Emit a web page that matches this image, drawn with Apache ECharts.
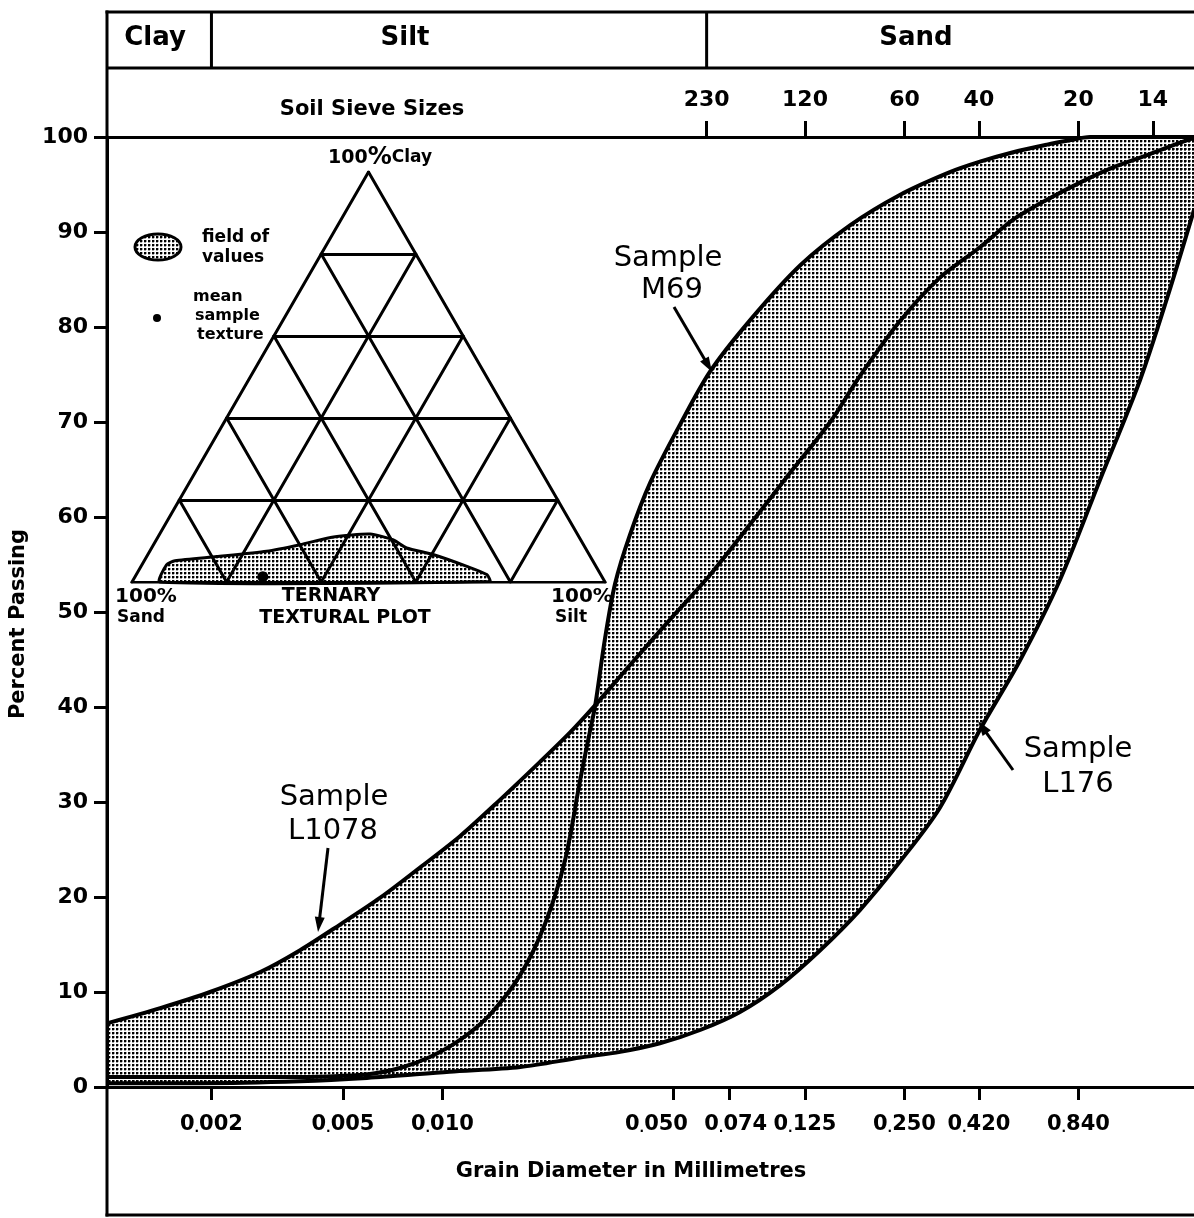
<!DOCTYPE html>
<html><head><meta charset="utf-8">
<script src="https://cdn.jsdelivr.net/npm/echarts@6/dist/echarts.min.js"></script>
<style>html,body{margin:0;padding:0;background:#fff}#c{width:1194px;height:1218px}</style>
</head><body><div id="c"></div>
<script>
// ---------------- data ----------------
const xTickValues = [0.002, 0.005, 0.010, 0.050, 0.074, 0.125, 0.250, 0.420, 0.840];
const xTickLabels = ['0.002', '0.005', '0.010', '0.050', '0.074', '0.125', '0.250', '0.420', '0.840'];
const sieveOpenings = [0.063, 0.125, 0.250, 0.420, 0.840, 1.41];
const sieveLabels = ['230', '120', '60', '40', '20', '14'];
const classBounds = [0.002, 0.063];
const classNames = ['Clay', 'Silt', 'Sand'];

// Sample L1078 (grain diameter mm, percent passing)
const l1078Diam = [0.000966, 0.0014, 0.00198, 0.00281, 0.00371, 0.0049, 0.00647, 0.00855, 0.0113, 0.0149, 0.0197, 0.0243, 0.029, 0.0369, 0.0488, 0.0645, 0.0852, 0.113, 0.149, 0.183, 0.242, 0.320, 0.423, 0.533, 0.675, 0.849, 1.07, 1.355, 1.705, 1.879];
const l1078Pct  = [6.7, 8.3, 10.0, 12.1, 14.4, 17.1, 19.9, 23.1, 26.4, 30.2, 34.2, 37.3, 40.2, 44.4, 49.2, 53.9, 59.2, 64.7, 70.0, 74.8, 80.6, 85.2, 88.4, 91.3, 93.4, 95.2, 96.8, 98.1, 99.4, 99.9];
// Sample M69
const m69Diam = [0.000966, 0.00185, 0.00371, 0.0049, 0.00604, 0.00744, 0.00917, 0.0113, 0.0139, 0.0172, 0.0204, 0.0235, 0.0261, 0.028, 0.029, 0.031, 0.0333, 0.0369, 0.0425, 0.0523, 0.0645, 0.0852, 0.121, 0.171, 0.242, 0.343, 0.423, 0.533, 0.675, 0.776, 0.911, 1.879];
const m69Pct  = [1.05, 1.05, 1.05, 1.16, 1.37, 2.0, 3.16, 4.95, 7.6, 11.8, 17.1, 23.9, 32.3, 37.6, 40.2, 47.1, 53.0, 58.1, 63.6, 69.7, 75.3, 80.7, 86.5, 90.7, 93.9, 96.3, 97.4, 98.4, 99.2, 99.6, 100, 100];
// Sample L176
const l176Diam = [0.000966, 0.00185, 0.00371, 0.00591, 0.0105, 0.0172, 0.0261, 0.0345, 0.0455, 0.0602, 0.0795, 0.105, 0.139, 0.183, 0.242, 0.320, 0.423, 0.559, 0.739, 0.976, 1.29, 1.557, 1.879];
const l176Pct  = [0.4, 0.4, 0.6, 0.95, 1.6, 2.1, 3.1, 3.7, 4.6, 6.0, 7.9, 10.7, 14.4, 18.6, 23.7, 29.4, 37.6, 44.9, 53.4, 63.9, 74.4, 83.0, 92.3];

// Ternary inset: field of values (percent silt / clay), mean sample texture, grid steps
const fieldSilt = [5.9, 5.2, 6.5, 14.8, 24.7, 31.0, 37.1, 44.5, 50.0, 53.9, 60.3, 68.9, 74.1, 75.6];
const fieldClay = [0.0, 4.2, 5.2, 6.2, 7.5, 9.1, 11.0, 11.7, 10.3, 8.3, 6.7, 3.8, 1.8, 0.1];
const meanSilt = [27.0];
const meanClay = [1.3];
const ternaryGrid = [20, 40, 60, 80];

// ---------------- helpers ----------------
const X_MIN = -3.015, X_MAX = 0.274;
const lg = v => Math.log10(v);
const pts = (d, p) => d.map((v, i) => [lg(v), p[i]]);
const tern = (sand, silt, clay) => [silt + clay / 2, clay * Math.sqrt(3) / 2];
const FONT = '"DejaVu Sans", sans-serif';

function makeDots() {
  const c = document.createElement('canvas');
  c.width = 4; c.height = 4;
  const g = c.getContext('2d');
  g.fillStyle = '#000';
  g.fillRect(0, 0, 2, 2);
  g.fillStyle = 'rgba(0,0,0,0.35)';
  g.fillRect(2, 0, 1, 2);
  g.fillRect(0, 2, 2, 1);
  return c;
}
const dots = { image: makeDots(), repeat: 'repeat' };

// hand-lettered label nudges (style only)
const labelNudge = { '0.050': 'nl', '0.074': 'nr' };

function labelFor(values, labels, rich) {
  return v => {
    const i = values.findIndex(t => Math.abs(lg(t) - v) < 1e-6);
    if (i < 0) return '';
    if (!rich) return labels[i];
    const parts = labels[i].split('.');
    const nudge = labelNudge[labels[i]];
    const a = nudge === 'nr' ? 'nr' : 'n';
    const b = nudge === 'nl' ? 'nl' : 'n';
    return '{' + a + '|' + parts[0] + '}{p|.}{' + b + '|' + parts[1] + '}';
  };
}

// ternary grid lines
const ternLines = [];
ternaryGrid.forEach(k => {
  ternLines.push([tern(100 - k, 0, k), tern(0, 100 - k, k)]);
  ternLines.push([tern(k, 100 - k, 0), tern(k, 0, 100 - k)]);
  ternLines.push([tern(100 - k, k, 0), tern(0, k, 100 - k)]);
});
ternLines.push([tern(100, 0, 0), tern(0, 100, 0)]);
ternLines.push([tern(0, 100, 0), tern(0, 0, 100)]);
ternLines.push([tern(0, 0, 100), tern(100, 0, 0)]);

const chart = echarts.init(document.getElementById('c'), null, { renderer: 'canvas' });

const blackLine = { color: '#000', width: 3 };
const numStyle = { fontFamily: FONT, fontWeight: 'bold', fontSize: 21, color: '#000' };

const option = {
  animation: false,
  backgroundColor: '#fff',
  grid: [
    { left: 107, top: 137, right: 0, bottom: 131 },
    { left: 132, top: 172, width: 473, height: 410 }
  ],
  xAxis: [
    {
      type: 'value', gridIndex: 0, position: 'bottom', min: X_MIN, max: X_MAX,
      axisLine: { show: true, onZero: false, lineStyle: blackLine },
      axisTick: { show: true, customValues: xTickValues.map(lg), length: 13, lineStyle: blackLine },
      axisLabel: { customValues: xTickValues.map(lg), formatter: labelFor(xTickValues, xTickLabels, true),
        margin: 27, color: '#000',
        rich: { n: numStyle,
                nl: Object.assign({}, numStyle, { padding: [0, 34, 0, 0] }),
                nr: Object.assign({}, numStyle, { padding: [0, 0, 0, 12] }),
                p: { fontFamily: FONT, fontWeight: 'bold', fontSize: 12, color: '#000', verticalAlign: 'bottom', padding: [9, 0, 0, 0] } } },
      splitLine: { show: false },
      name: 'Grain Diameter in Millimetres', nameLocation: 'middle', nameGap: 74,
      nameTextStyle: { color: '#000', fontFamily: FONT, fontWeight: 'bold', fontSize: 21, padding: [0, 39, 0, 0] }
    },
    {
      type: 'value', gridIndex: 0, position: 'top', min: X_MIN, max: X_MAX,
      axisLine: { show: true, onZero: false, lineStyle: blackLine },
      axisTick: { show: true, customValues: sieveOpenings.map(lg), length: 16, lineStyle: blackLine },
      axisLabel: { customValues: sieveOpenings.map(lg), formatter: labelFor(sieveOpenings, sieveLabels, false),
        margin: 26, color: '#000', fontFamily: FONT, fontWeight: 'bold', fontSize: 22 },
      splitLine: { show: false }
    },
    { type: 'value', gridIndex: 1, min: 0, max: 100, show: false }
  ],
  yAxis: [
    {
      type: 'value', gridIndex: 0, min: 0, max: 100, interval: 10,
      axisLine: { show: true, onZero: false, lineStyle: blackLine },
      axisTick: { show: true, length: 13, lineStyle: blackLine },
      axisLabel: { margin: 19, color: '#000', fontFamily: FONT, fontWeight: 'bold', fontSize: 22 },
      splitLine: { show: false },
      name: 'Percent Passing', nameLocation: 'middle', nameGap: 78, nameRotate: 90,
      nameTextStyle: { color: '#000', fontFamily: FONT, fontWeight: 'bold', fontSize: 21, padding: [0, 24, 0, 0] }
    },
    { type: 'value', gridIndex: 1, min: 0, max: 100 * Math.sqrt(3) / 2, show: false }
  ],
  series: [
    {
      type: 'custom', xAxisIndex: 0, yAxisIndex: 0, z: 1, silent: true,
      data: [[X_MIN, 0], [X_MIN, 0]],
      renderItem(params, api) {
        const top = params.dataIndex === 0 ? pts(l1078Diam, l1078Pct) : pts(m69Diam, m69Pct);
        const bot = pts(l176Diam, l176Pct).slice().reverse();
        const points = top.concat(bot).map(p => api.coord(p));
        return { type: 'polygon', shape: { points, smooth: 0 }, style: { fill: dots, stroke: null } };
      }
    },
    { name: 'Sample L1078', type: 'line', xAxisIndex: 0, yAxisIndex: 0, data: pts(l1078Diam, l1078Pct),
      symbol: 'none', smooth: 0.3, lineStyle: { color: '#000', width: 4 }, z: 3 },
    { name: 'Sample M69', type: 'line', xAxisIndex: 0, yAxisIndex: 0, data: pts(m69Diam, m69Pct),
      symbol: 'none', smooth: 0.3, lineStyle: { color: '#000', width: 4 }, z: 3 },
    { name: 'Sample L176', type: 'line', xAxisIndex: 0, yAxisIndex: 0, data: pts(l176Diam, l176Pct),
      symbol: 'none', smooth: 0.3, lineStyle: { color: '#000', width: 4 }, z: 3 },
    {
      type: 'custom', xAxisIndex: 2, yAxisIndex: 1, z: 4, silent: true,
      data: [[0, 0]],
      renderItem(params, api) {
        const points = fieldSilt.map((s, i) => api.coord(tern(100 - s - fieldClay[i], s, fieldClay[i])));
        return { type: 'polygon', shape: { points, smooth: 0.2 }, style: { fill: dots, stroke: '#000', lineWidth: 3 } };
      }
    },
    { type: 'lines', coordinateSystem: 'cartesian2d', xAxisIndex: 2, yAxisIndex: 1, z: 5, silent: true,
      data: ternLines.map(c => ({ coords: c })),
      lineStyle: { color: '#000', width: 3, opacity: 1, curveness: 0, cap: 'round' } },
    { type: 'scatter', xAxisIndex: 2, yAxisIndex: 1, z: 6, silent: true,
      data: meanSilt.map((s, i) => tern(100 - s - meanClay[i], s, meanClay[i])),
      symbol: 'circle', symbolSize: 11, itemStyle: { color: '#000', opacity: 1 } }
  ]
};
chart.setOption(option);

// ---------------- graphic (frame, header, inset texts, annotations) ----------------
function txt(text, x, y, font, align) {
  return { type: 'text', z: 50, silent: true,
    style: { text, x, y, font, fill: '#000', align: align || 'center', verticalAlign: 'middle' } };
}
function ln(x1, y1, x2, y2, w) {
  return { type: 'line', z: 50, silent: true, shape: { x1, y1, x2, y2 },
    style: { stroke: '#000', lineWidth: w || 3 } };
}
function arrow(tx, ty, hx, hy) {
  const dx = hx - tx, dy = hy - ty, L = Math.hypot(dx, dy);
  const ux = dx / L, uy = dy / L, nx = -uy, ny = ux;
  const bx = hx - ux * 15, by = hy - uy * 15;
  return [
    ln(tx, ty, bx + ux * 2, by + uy * 2, 3),
    { type: 'polygon', z: 50, silent: true,
      shape: { points: [[hx, hy], [bx + nx * 5, by + ny * 5], [bx - nx * 5, by - ny * 5]] },
      style: { fill: '#000' } }
  ];
}

const bold = s => 'bold ' + s + 'px ' + FONT;
const norm = s => s + 'px ' + FONT;

const g = [];
// frame
g.push(ln(107, 10.5, 107, 1216.5));
g.push(ln(105.5, 12, 1194, 12));
g.push(ln(107, 68, 1194, 68));
g.push(ln(105.5, 1215, 1194, 1215));
// class dividers from data
classBounds.forEach(b => {
  const x = chart.convertToPixel({ xAxisIndex: 0 }, lg(b));
  g.push(ln(x, 12, x, 68));
});
// header labels
g.push(txt(classNames[0], 155, 38, bold(26)));
g.push(txt(classNames[1], 405, 38, bold(26)));
g.push(txt(classNames[2], 916, 38, bold(26)));
g.push(txt('Soil Sieve Sizes', 372, 110, bold(21)));

// inset legend
g.push({ type: 'ellipse', z: 50, silent: true, shape: { cx: 158, cy: 247, rx: 23, ry: 13 },
  style: { fill: dots, stroke: '#000', lineWidth: 3 } });
g.push(txt('field of', 202, 238, bold(17), 'left'));
g.push(txt('values', 202, 258, bold(17), 'left'));
g.push({ type: 'circle', z: 50, silent: true, shape: { cx: 157, cy: 318, r: 4 }, style: { fill: '#000' } });
g.push(txt('mean', 193, 297, bold(16), 'left'));
g.push(txt('sample', 195, 316, bold(16), 'left'));
g.push(txt('texture', 197, 335, bold(16), 'left'));
// inset vertex and title labels
g.push({ type: 'text', z: 50, silent: true,
  style: { text: '{a|100}{b|%}{c|Clay}', x: 380, y: 158, align: 'center', verticalAlign: 'middle',
    rich: { a: { font: bold(19), fill: '#000' }, b: { font: bold(24), fill: '#000' }, c: { font: bold(17), fill: '#000' } } } });
g.push(txt('100%', 146, 597, bold(20)));
g.push(txt('Sand', 141, 618, bold(17)));
g.push(txt('TERNARY', 331, 596, bold(19)));
g.push(txt('TEXTURAL PLOT', 345, 618, bold(19)));
g.push(txt('100%', 582, 597, bold(20)));
g.push(txt('Silt', 571, 618, bold(17)));

// sample annotations
g.push(txt('Sample', 668, 258, norm(29)));
g.push(txt('M69', 672, 290, norm(29)));
g.push(...arrow(674, 307, 712, 372));
g.push(txt('Sample', 334, 797, norm(29)));
g.push(txt('L1078', 333, 831, norm(29)));
g.push(...arrow(328, 848, 318, 932));
g.push(txt('Sample', 1078, 749, norm(29)));
g.push(txt('L176', 1078, 784, norm(29)));
g.push(...arrow(1013, 770, 978, 721));

chart.setOption({ graphic: { elements: g } });
</script>
</body></html>
